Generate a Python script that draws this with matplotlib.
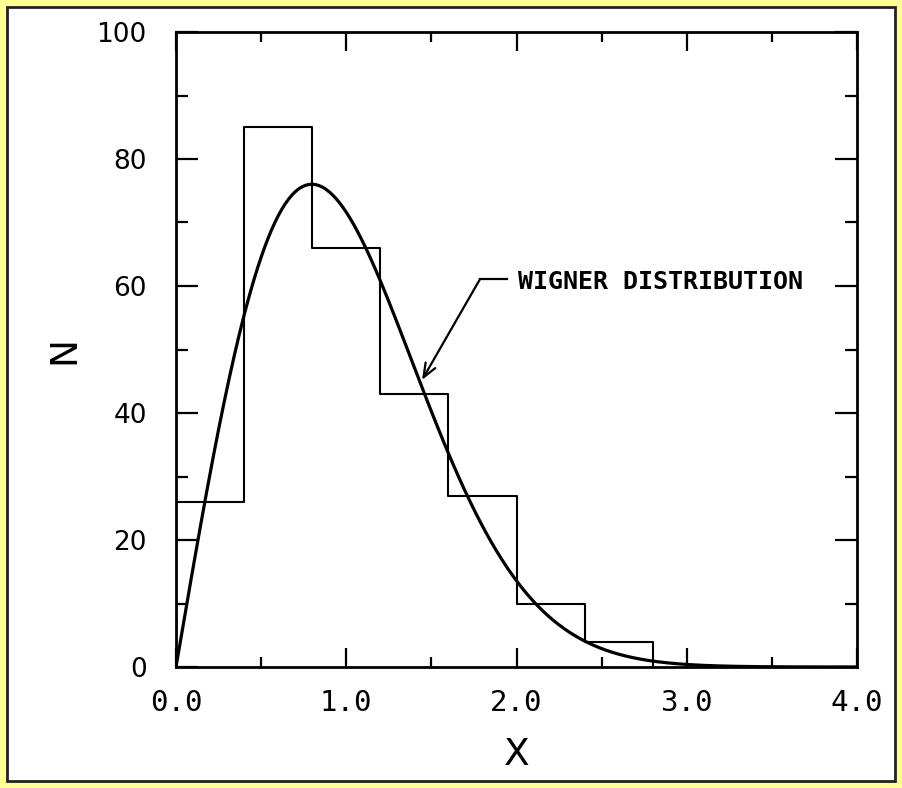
import numpy as np
import matplotlib.pyplot as plt
from matplotlib.patches import Rectangle

# histogram (bin width 0.4)
bin_edges = [0.0, 0.4, 0.8, 1.2, 1.6, 2.0, 2.4, 2.8]
counts = [26, 85, 66, 43, 27, 10, 4]

# Wigner surmise, normalised to 100 spacings
norm = 100
x_curve = np.linspace(0, 4, 400)
n_curve = norm * (np.pi / 2) * x_curve * np.exp(-np.pi * x_curve**2 / 4)

x_ticks = [0, 1, 2, 3, 4]
x_ticklabels = ['0.0', '1.0', '2.0', '3.0', '4.0']
y_ticks = [0, 20, 40, 60, 80, 100]

fig = plt.figure(figsize=(9.03, 7.88), dpi=100, facecolor='#FFFF99')
fig.patches.append(Rectangle((7 / 903, 7 / 788), 888 / 903, 774 / 788,
                             transform=fig.transFigure, facecolor='white',
                             edgecolor='#222222', linewidth=2, zorder=-1))

ax = fig.add_axes([176 / 903, 1 - 667 / 788, 681 / 903, 635 / 788])
ax.set_facecolor('none')

# step histogram
xs = [bin_edges[0]]
ys = [0]
for i, c in enumerate(counts):
    xs += [bin_edges[i], bin_edges[i + 1]]
    ys += [c, c]
xs.append(bin_edges[-1])
ys.append(0)
ax.plot(xs, ys, color='black', lw=1.5)

ax.plot(x_curve, n_curve, color='black', lw=2.3)

ax.set_xlim(0, 4)
ax.set_ylim(0, 100)
ax.set_xticks(x_ticks)
ax.set_xticklabels(x_ticklabels, family='DejaVu Sans Mono', fontsize=21)
ax.set_xticks(np.arange(0.5, 4, 1.0), minor=True)
ax.set_yticks(y_ticks)
ax.set_yticklabels([str(v) for v in y_ticks], fontsize=19)
ax.set_yticks(np.arange(10, 100, 20), minor=True)

ax.tick_params(which='both', direction='in', top=True, right=True, width=1.6, color='black')
ax.tick_params(axis='y', which='major', length=16, pad=21)
ax.tick_params(axis='y', which='minor', length=8.5)
ax.tick_params(axis='x', which='major', length=14, pad=16)
ax.tick_params(axis='x', which='minor', length=7.5)
for s in ax.spines.values():
    s.set_linewidth(2)

ax.set_xlabel('X', fontsize=27, labelpad=14)
ax.set_ylabel('N', fontsize=27, labelpad=10)

# label with leader line
ax.text(2.01, 60.6, 'WIGNER DISTRIBUTION', family='DejaVu Sans Mono',
        fontweight='bold', fontsize=18, ha='left', va='center')
ax.plot([1.786, 1.944], [61.1, 61.1], color='black', lw=1.6)
ax.annotate('', xy=(1.445, 45.2), xytext=(1.786, 61.1),
            arrowprops=dict(arrowstyle='->,head_length=1.0,head_width=0.4',
                            color='black', lw=1.6, shrinkA=0, shrinkB=0))

fig.savefig('out.png', dpi=100, facecolor=fig.get_facecolor())
